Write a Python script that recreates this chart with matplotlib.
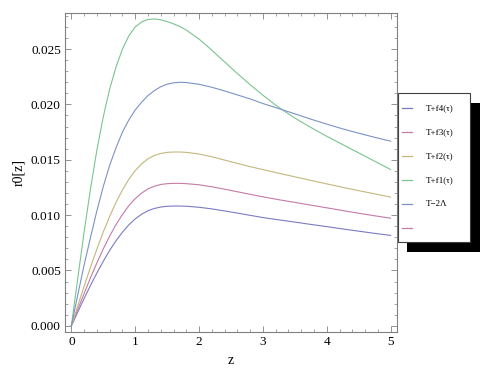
import matplotlib.pyplot as plt
from matplotlib.patches import Rectangle
from matplotlib.ticker import MultipleLocator

# valores
z = [0, 0.1, 0.2, 0.3, 0.4, 0.5, 0.6, 0.7, 0.8, 0.9, 1.0, 1.1, 1.2, 1.3, 1.4,
     1.5, 1.6, 1.7, 1.8, 2.0, 2.2, 2.4, 2.6, 2.8, 3.0, 3.25, 3.5, 3.75, 4.0,
     4.25, 4.5, 4.75, 5.0]

r_f4 = [0, 0.00124, 0.00247, 0.00366, 0.00478, 0.00584, 0.00682, 0.00769,
        0.00846, 0.00912, 0.00966, 0.01008, 0.01040, 0.01060, 0.01073, 0.01080,
        0.01082, 0.01082, 0.01080, 0.01071, 0.01056, 0.01038, 0.01018, 0.00998,
        0.00978, 0.00957, 0.00937, 0.00916, 0.00896, 0.00875, 0.00855, 0.00835,
        0.00817]

r_f3 = [0, 0.00148, 0.00293, 0.00435, 0.00569, 0.00695, 0.00811, 0.00915,
        0.01006, 0.01085, 0.01149, 0.01199, 0.01237, 0.01261, 0.01277, 0.01284,
        0.01287, 0.01287, 0.01284, 0.01274, 0.01256, 0.01234, 0.01211, 0.01188,
        0.01165, 0.01139, 0.01115, 0.01090, 0.01066, 0.01041, 0.01017, 0.00994,
        0.00972]

r_f2 = [0, 0.00181, 0.00358, 0.00531, 0.00694, 0.00848, 0.00989, 0.01116,
        0.01228, 0.01324, 0.01402, 0.01463, 0.01509, 0.01539, 0.01557, 0.01567,
        0.01570, 0.01570, 0.01567, 0.01552, 0.01527, 0.01497, 0.01467, 0.01438,
        0.01411, 0.01378, 0.01346, 0.01314, 0.01282, 0.01251, 0.01221, 0.01192,
        0.01163]

r_f1 = [0, 0.0043, 0.0085, 0.0124, 0.0159, 0.0189, 0.0214, 0.0234, 0.0250,
        0.0262, 0.0270, 0.02745, 0.02768, 0.02772, 0.02765, 0.02748, 0.02728,
        0.02703, 0.02672, 0.02590, 0.02490, 0.02384, 0.02279, 0.02178, 0.02083,
        0.01972, 0.01877, 0.01792, 0.01712, 0.01637, 0.01562, 0.01487, 0.01412]

r_lam = [0, 0.0028, 0.0055, 0.0080, 0.0104, 0.0126, 0.0145, 0.0161, 0.0175,
         0.0186, 0.0195, 0.0202, 0.0208, 0.02125, 0.0216, 0.02183, 0.02195,
         0.0220, 0.02198, 0.02182, 0.02155, 0.02122, 0.02086, 0.02050, 0.02008,
         0.01962, 0.01915, 0.01867, 0.01822, 0.01779, 0.01740, 0.01703, 0.01668]

series = [r_f4, r_f3, r_f2, r_f1, r_lam]
labels = ['T+f4(\u03c4)', 'T+f3(\u03c4)', 'T+f2(\u03c4)', 'T+f1(\u03c4)',
          'T\u22122\u039b', '']
colores = ['#7b7bc4', '#c47ba6', '#c4b77b', '#7bc48f', '#7b93c4', '#c47ba6']

plt.rcParams['font.family'] = ['Liberation Serif', 'DejaVu Serif']

fig = plt.figure(figsize=(4.91, 3.82), dpi=100)
ax = fig.add_axes([65 / 491, 1 - 332 / 382, 332 / 491, 319 / 382])

for y, c in zip(series, colores):
    ax.plot(z, y, color=c, lw=0.8)

ax.set_xlim(-0.1, 5.1)
ax.set_ylim(-0.00056, 0.02826)
ax.xaxis.set_major_locator(MultipleLocator(1))
ax.xaxis.set_minor_locator(MultipleLocator(0.2))
ax.yaxis.set_major_locator(MultipleLocator(0.005))
ax.yaxis.set_minor_locator(MultipleLocator(0.001))
ax.yaxis.set_major_formatter(plt.FuncFormatter(lambda v, p: '%.3f' % v))
ax.tick_params(which='both', direction='in', top=True, right=True,
               color='#808080', labelsize=9.5, pad=3)
ax.tick_params(which='major', length=4, width=0.6)
ax.tick_params(which='minor', length=2, width=0.5)
for s in ax.spines.values():
    s.set_color('#808080')
    s.set_linewidth(0.8)

ax.set_xlabel('z', fontsize=10)
ax.set_ylabel('r0[z]', fontsize=10)

# leyenda con sombra, en pixeles de la figura
def px(x, y):
    return x / 491, 1 - y / 382

x0, y0 = px(407, 252)
fig.patches.append(Rectangle((x0, y0), 73 / 491, 149 / 382, transform=fig.transFigure,
                             facecolor='black', edgecolor='none', zorder=1))
x0, y0 = px(398, 242)
fig.patches.append(Rectangle((x0, y0), 72 / 491, 149 / 382, transform=fig.transFigure,
                             facecolor='white', edgecolor='#404040', lw=0.8, zorder=2))
for i, (lab, c) in enumerate(zip(labels, colores)):
    yy = 108 + 24 * i
    fig.add_artist(plt.Line2D([402 / 491, 412 / 491], [1 - yy / 382] * 2,
                              transform=fig.transFigure, color=c, lw=0.9, zorder=3))
    fig.text(426 / 491, 1 - yy / 382, lab, fontsize=6.5, va='center', zorder=3)

fig.savefig('out.png', dpi=100)
